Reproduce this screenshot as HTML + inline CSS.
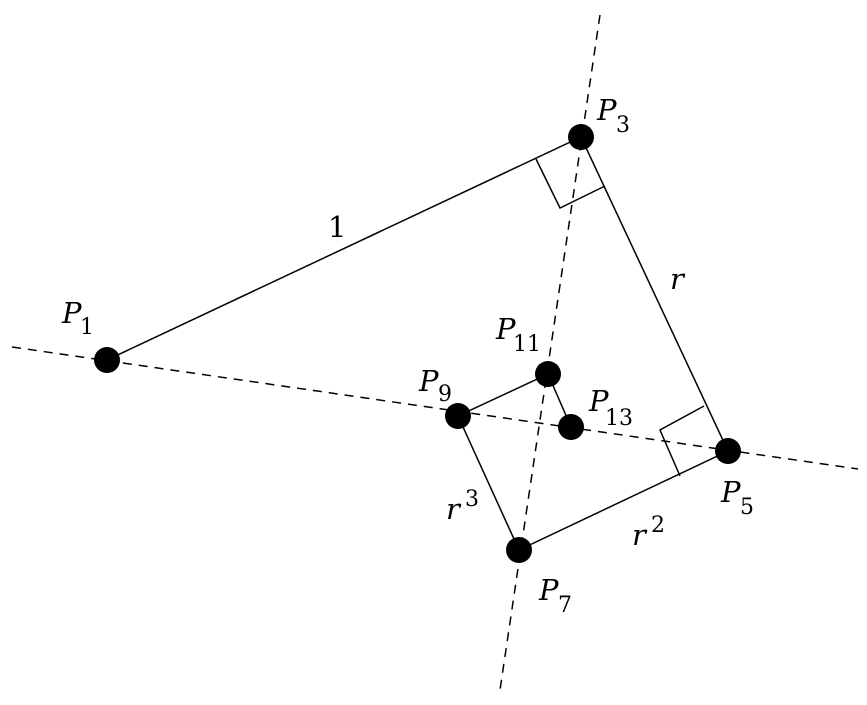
<!DOCTYPE html>
<html><head><style>body{margin:0;background:#fff}svg{display:block}</style></head><body>
<svg width="867" height="705" viewBox="0 0 867 705" xmlns="http://www.w3.org/2000/svg">
<g stroke="#000" stroke-width="1.5" fill="none">
<line x1="12" y1="347" x2="858" y2="469" stroke-dasharray="9,7"/>
<line x1="600" y1="15" x2="500" y2="690" stroke-dasharray="9,7"/>
<polyline points="107,360 581,137 728,451 519,550 458,416 548,374 571,427"/>
<polyline points="536,159 560,208 605,186"/>
<polyline points="704,406 660,430 680,476"/>
</g>
<g fill="#000">
<circle cx="107" cy="360" r="13"/><circle cx="581" cy="137" r="13"/>
<circle cx="728" cy="451" r="13"/><circle cx="519" cy="550" r="13"/>
<circle cx="458" cy="416" r="13"/><circle cx="548" cy="374" r="13"/>
<circle cx="571" cy="427" r="13"/>
</g>
<g font-family="DejaVu Serif, serif" font-size="29" fill="#000">
<text x="62" y="323" font-style="italic">P</text><text x="80" y="334" font-size="22">1</text>
<text x="597" y="120" font-style="italic">P</text><text x="616" y="132" font-size="22">3</text>
<text x="721" y="502" font-style="italic">P</text><text x="740" y="514" font-size="22">5</text>
<text x="539" y="600" font-style="italic">P</text><text x="558" y="612" font-size="22">7</text>
<text x="419" y="391" font-style="italic">P</text><text x="438" y="401" font-size="22">9</text>
<text x="496" y="339" font-style="italic">P</text><text x="513" y="351" font-size="22">11</text>
<text x="589" y="411" font-style="italic">P</text><text x="605" y="425" font-size="22">13</text>
<text x="328" y="237">1</text>
<text x="670" y="289" font-style="italic">r</text>
<text x="446" y="519" font-style="italic">r</text><text x="465" y="506" font-size="22">3</text>
<text x="632" y="545" font-style="italic">r</text><text x="651" y="532" font-size="22">2</text>
</g>
</svg>
</body></html>
